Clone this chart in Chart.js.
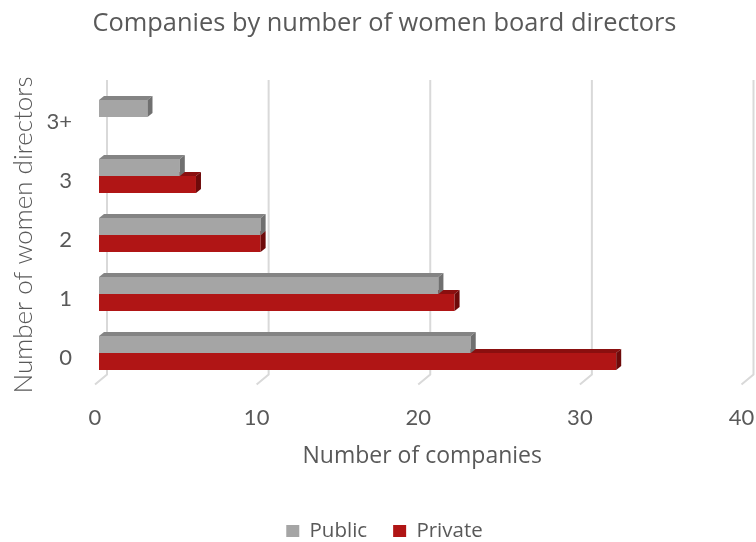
<!DOCTYPE html>
<html>
<head>
<meta charset="utf-8">
<title>Companies by number of women board directors</title>
<script src="https://cdn.jsdelivr.net/npm/chart.js@4.4.1/dist/chart.umd.min.js"></script>
<style>
  html, body { margin: 0; padding: 0; background: #ffffff; }
  #wrap { width: 756px; height: 542px; }
</style>
</head>
<body>
<div id="wrap"><canvas id="boardChart" width="756" height="542"></canvas></div>
<script>
// 女性取締役の人数
const categories = ['0', '1', '2', '3', '3+'];
// 企業数
const publicCounts = [23, 21, 10, 5, 3];
const privateCounts = [32, 22, 10, 6, 0];
// 横軸の目盛り
const xTicks = [0, 10, 20, 30, 40];

const textColor = '#595959';
const tickFont = { family: 'Lato', size: 22, weight: 'normal' };

// 奥行き（棒の上面・側面）
const DEPTH_X = 5;
const DEPTH_Y = 4;

// 左余白（タイトルと凡例を少し右寄せにするため）
const PAD_LEFT = 23.5;

/**
 * 棒を立体に見せるプラグイン
 * 奥の壁の目盛線と、各棒の上面・側面を描く
 */
const depthPlugin = {
    id: 'depthPlugin',
    beforeDatasetsDraw(chart) {
        const { ctx, chartArea, scales: { x } } = chart;
        ctx.save();
        ctx.strokeStyle = '#d9d9d9';
        ctx.lineWidth = 2;
        xTicks.forEach(v => {
            const px = x.getPixelForValue(v);
            ctx.beginPath();
            ctx.moveTo(px + 8, chartArea.top - 7.5);
            ctx.lineTo(px + 8, chartArea.bottom - 8);
            ctx.lineTo(px - 4, chartArea.bottom + 2);
            ctx.stroke();
        });
        ctx.restore();
    },
    afterDatasetDraw(chart, args) {
        const { ctx } = chart;
        const ds = chart.data.datasets[args.index];
        ctx.save();
        args.meta.data.forEach((bar, i) => {
            if (!ds.data[i]) return;
            const { x, y, base, height } = bar.getProps(['x', 'y', 'base', 'height'], true);
            const top = y - height / 2;
            const bottom = y + height / 2;
            // 上面
            ctx.fillStyle = ds.topColor;
            ctx.beginPath();
            ctx.moveTo(base, top);
            ctx.lineTo(base + DEPTH_X, top - DEPTH_Y);
            ctx.lineTo(x + DEPTH_X, top - DEPTH_Y);
            ctx.lineTo(x, top);
            ctx.closePath();
            ctx.fill();
            // 側面
            ctx.fillStyle = ds.sideColor;
            ctx.beginPath();
            ctx.moveTo(x, top);
            ctx.lineTo(x + DEPTH_X, top - DEPTH_Y);
            ctx.lineTo(x + DEPTH_X, bottom - DEPTH_Y);
            ctx.lineTo(x, bottom);
            ctx.closePath();
            ctx.fill();
        });
        ctx.restore();
    }
};

function createBoardChart() {
    const ctx = document.getElementById('boardChart').getContext('2d');
    new Chart(ctx, {
        type: 'bar',
        data: {
            labels: categories,
            datasets: [{
                label: 'Public',
                data: publicCounts,
                backgroundColor: '#a5a5a5',
                topColor: '#848484',
                sideColor: '#707070',
                borderWidth: 0
            }, {
                label: 'Private',
                data: privateCounts,
                backgroundColor: '#b01515',
                topColor: '#8a0f0f',
                sideColor: '#6e0a0a',
                borderWidth: 0
            }]
        },
        options: {
            indexAxis: 'y',
            responsive: false,
            animation: false,
            categoryPercentage: 34 / 59,
            barPercentage: 1,
            layout: {
                padding: { top: 0, left: PAD_LEFT, right: 10.5, bottom: -9.25 }
            },
            scales: {
                x: {
                    min: 0,
                    max: 40,
                    grid: { display: false, drawTicks: false },
                    border: { display: false },
                    ticks: {
                        stepSize: 10,
                        color: textColor,
                        font: tickFont,
                        padding: 22,
                        labelOffset: -4,
                        maxRotation: 0
                    },
                    title: {
                        display: true,
                        text: 'Number of companies',
                        color: textColor,
                        font: { family: 'Open Sans', size: 23 },
                        padding: { top: 0, bottom: 24 }
                    },
                    afterFit(scale) {
                        scale.height = 112.25;
                        scale.paddingLeft = 0;
                        scale.paddingRight = 0;
                    }
                },
                y: {
                    reverse: true,
                    grid: { display: false, drawTicks: false },
                    border: { display: false },
                    ticks: {
                        color: textColor,
                        font: tickFont,
                        padding: 27,
                        labelOffset: 5
                    },
                    title: {
                        display: true,
                        text: 'Number of women directors',
                        color: textColor,
                        font: { family: 'Lato', size: 26, weight: 300 },
                        padding: { top: 8 - PAD_LEFT, bottom: 0 }
                    },
                    afterFit(scale) {
                        scale.width = 99 - PAD_LEFT;
                    }
                }
            },
            plugins: {
                title: {
                    display: true,
                    text: 'Companies by number of women board directors',
                    color: textColor,
                    font: { family: 'Open Sans', size: 25.4, weight: 'normal' },
                    padding: { top: 8.3, bottom: 48.7 }
                },
                legend: {
                    position: 'bottom',
                    labels: {
                        color: textColor,
                        font: { family: 'Open Sans', size: 20.5 },
                        boxWidth: 13,
                        boxHeight: 12,
                        padding: 26
                    }
                },
                tooltip: { enabled: false }
            }
        },
        plugins: [depthPlugin]
    });
}

createBoardChart();
</script>
</body>
</html>
